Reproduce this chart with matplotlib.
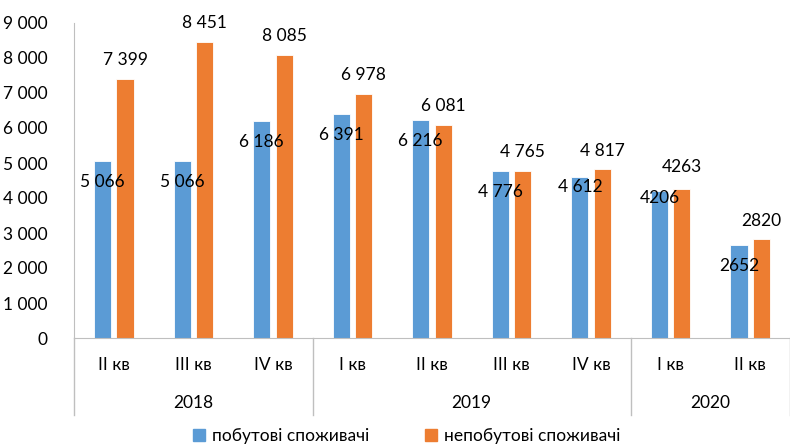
import numpy as np
import matplotlib
matplotlib.use("Agg")
import matplotlib.pyplot as plt
from matplotlib.patches import Patch

# data
quarters = ["II кв", "III кв", "IV кв", "I кв", "II кв", "III кв", "IV кв", "I кв", "II кв"]
years = ["2018", "2019", "2020"]
year_spans = [(0, 3), (3, 7), (7, 9)]  # index ranges of quarters per year
household = [5066, 5066, 6186, 6391, 6216, 4776, 4612, 4206, 2652]
non_household = [7399, 8451, 8085, 6978, 6081, 4765, 4817, 4263, 2820]
household_labels = ["5 066", "5 066", "6 186", "6 391", "6 216", "4 776", "4 612", "4206", "2652"]
non_household_labels = ["7 399", "8 451", "8 085", "6 978", "6 081", "4 765", "4 817", "4263", "2820"]
yticks = [0, 1000, 2000, 3000, 4000, 5000, 6000, 7000, 8000, 9000]
ytick_labels = ["0", "1 000", "2 000", "3 000", "4 000", "5 000", "6 000", "7 000", "8 000", "9 000"]
series_names = ["побутові споживачі", "непобутові споживачі"]

blue = "#5B9BD5"
orange = "#ED7D31"
grey = "#BFBFBF"

# label offsets (points) - a couple of the blue ones sit higher in the original
blue_dy = [-15, -15, -15, -15, -15, -15, -7.5, -5, -15]
orange_dy = [13.5, 13.5, 13.5, 13.5, 13.5, 13.5, 13.5, 15.5, 13.5]

plt.rcParams["font.family"] = ["Lato", "DejaVu Sans"]
plt.rcParams["font.size"] = 12.5

fig = plt.figure(figsize=(7.9, 4.44), dpi=100)
ax = fig.add_axes([74 / 790, 1 - 338 / 444, 716 / 790, 315 / 444])

x = np.arange(len(quarters))
w = 0.215
off = 0.1415
ax.bar(x - off, household, w, color=blue, edgecolor="white", linewidth=0.6)
ax.bar(x + off, non_household, w, color=orange, edgecolor="white", linewidth=0.6)

# value labels: blue inside near top, orange above
for xi, v, s, dy in zip(x, household, household_labels, blue_dy):
    ax.annotate(s, (xi - off, v), xytext=(0, dy), textcoords="offset points",
                ha="center", va="center", color="#000000")
for xi, v, s, dy in zip(x, non_household, non_household_labels, orange_dy):
    ax.annotate(s, (xi + off, v), xytext=(0, dy), textcoords="offset points",
                ha="center", va="center", color="#000000")

ax.set_xlim(-0.5, len(quarters) - 0.5)
ax.set_ylim(0, 9000)
ax.set_yticks(yticks)
ax.set_yticklabels(ytick_labels)
ax.tick_params(axis="y", length=0, pad=19)
ax.set_xticks([])

for side in ["top", "right"]:
    ax.spines[side].set_visible(False)
ax.spines["left"].set_color(grey)
ax.spines["bottom"].set_color(grey)

# two-level category axis
trans = ax.get_xaxis_transform()
for xi, q in zip(x, quarters):
    ax.text(xi, -0.086, q, transform=trans, ha="center", va="center")
for (a, b), yr in zip(year_spans, years):
    ax.text((a + b - 1) / 2, -0.206, yr, transform=trans, ha="center", va="center")
    ax.plot([a - 0.5, a - 0.5], [0, -0.245], transform=trans, color=grey,
            linewidth=1, clip_on=False)
ax.plot([len(quarters) - 0.5] * 2, [0, -0.245], transform=trans, color=grey,
        linewidth=1, clip_on=False)

handles = [Patch(color=blue), Patch(color=orange)]
fig.legend(handles, series_names, loc="center", bbox_to_anchor=(0.515, 0.018),
           ncol=2, frameon=False, handlelength=0.7, handleheight=0.7,
           columnspacing=3.2, handletextpad=0.4)

fig.savefig("out.png", dpi=100)
